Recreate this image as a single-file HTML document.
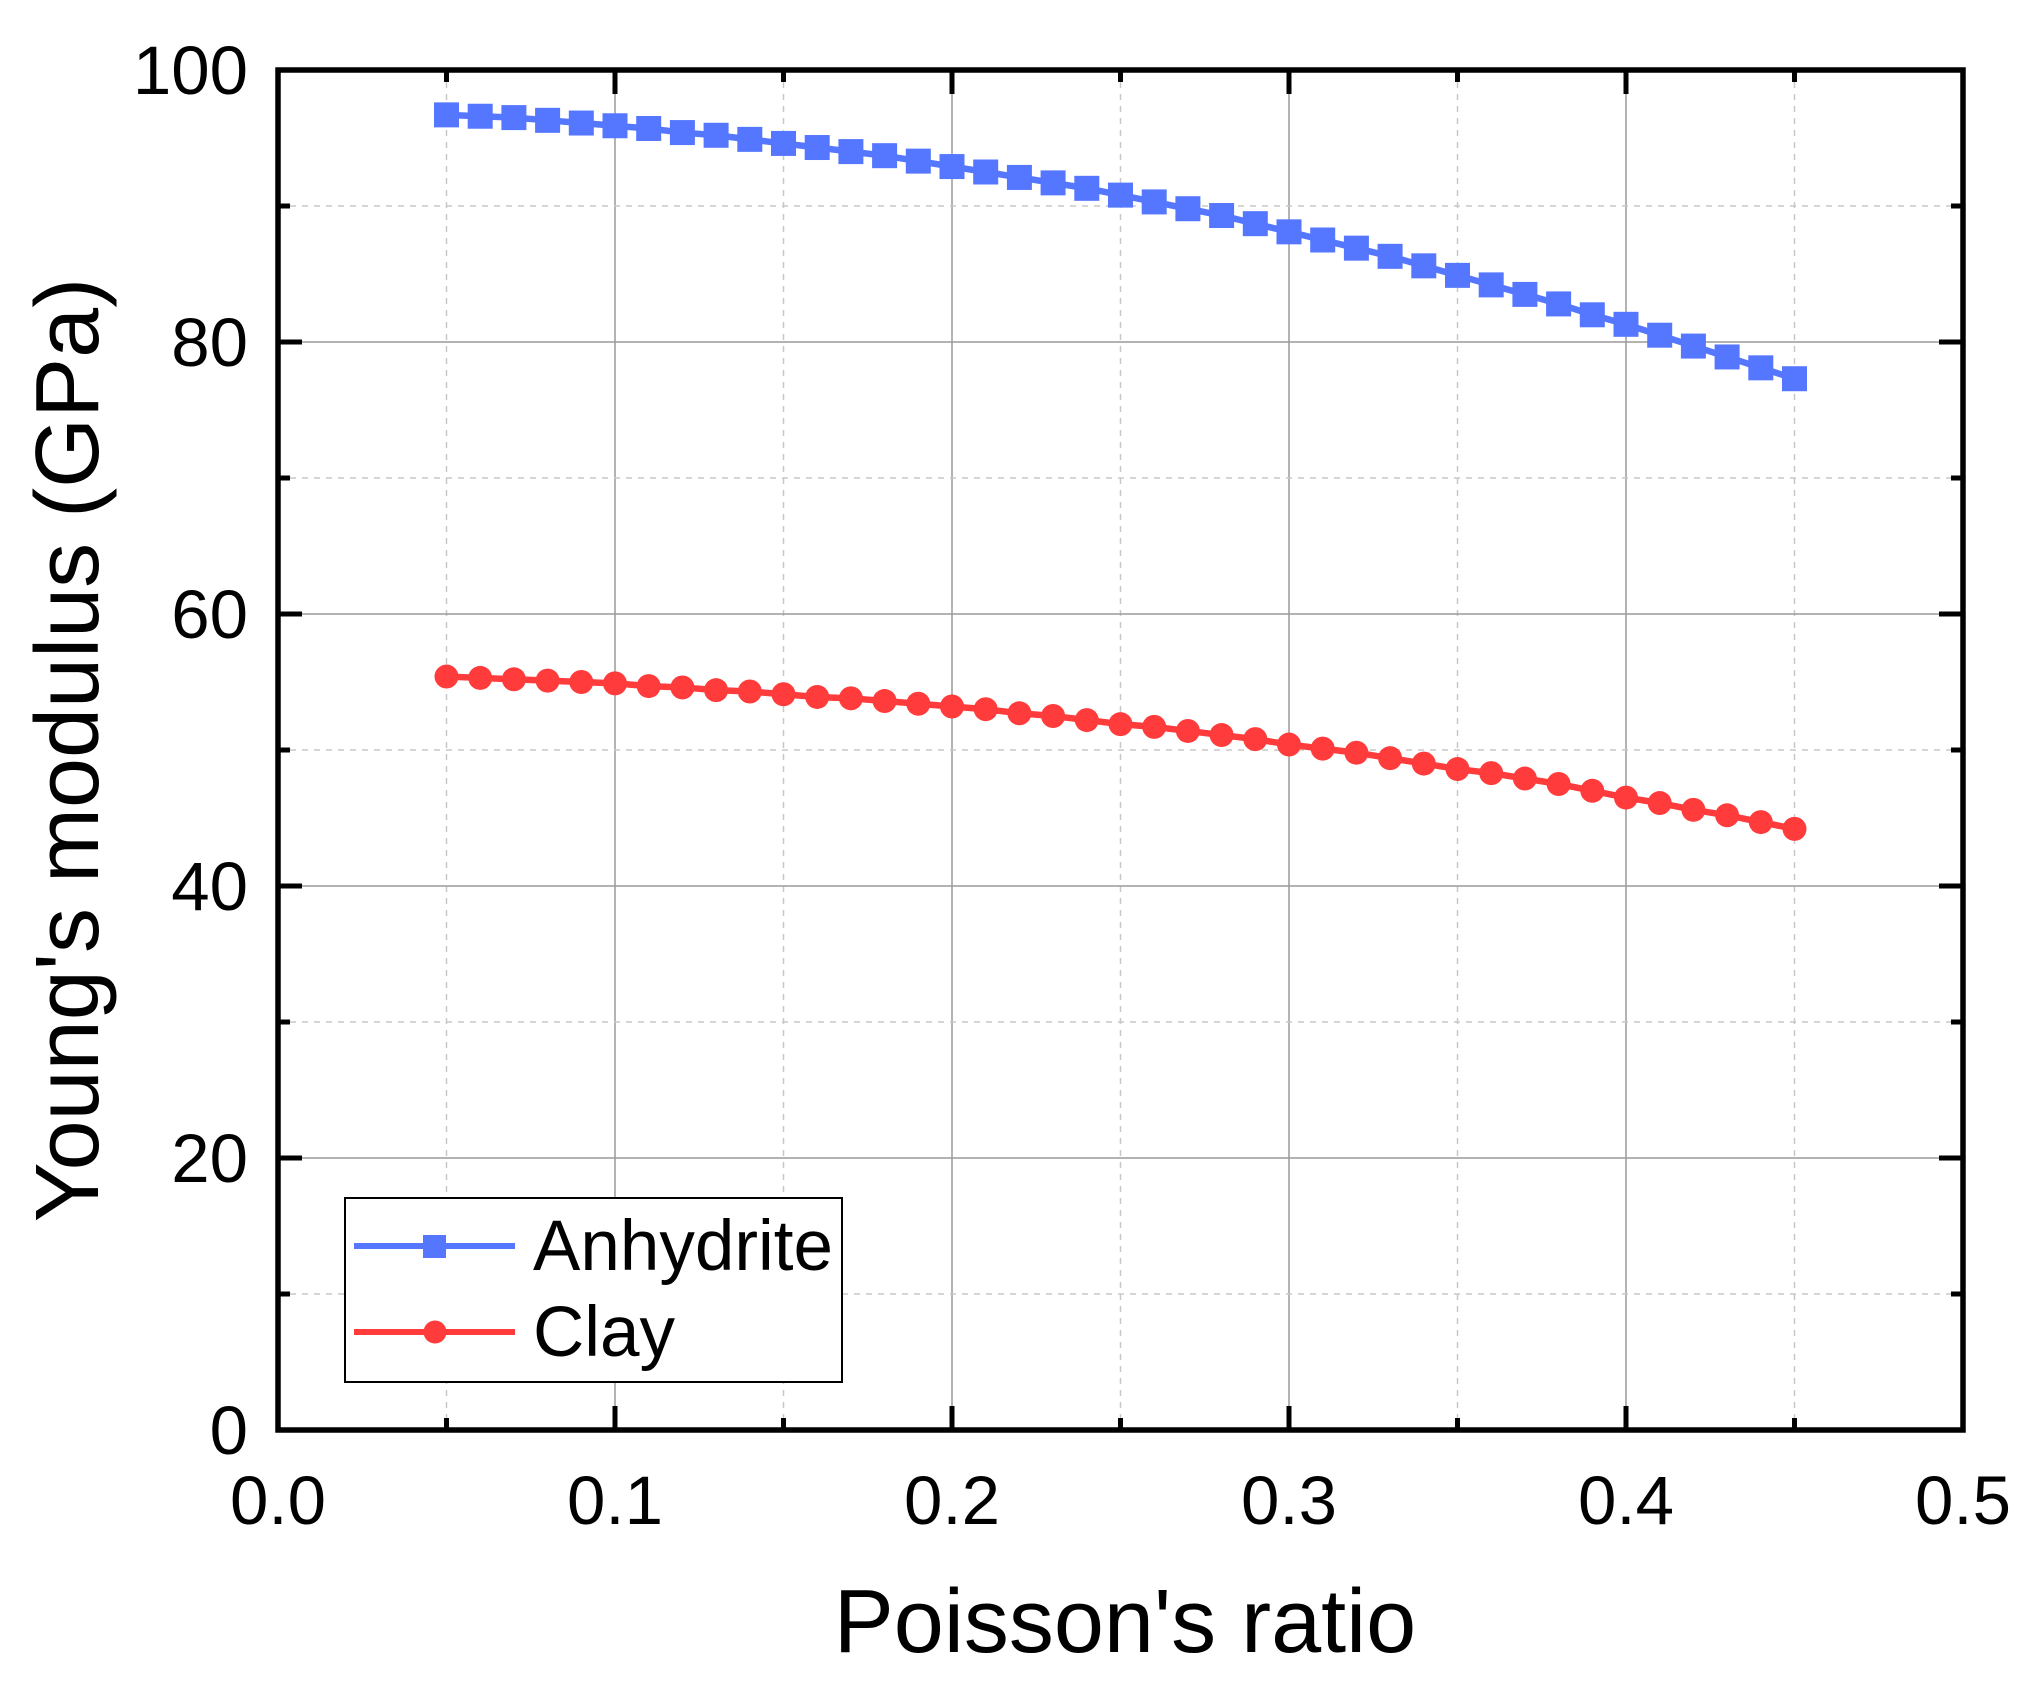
<!DOCTYPE html>
<html><head><meta charset="utf-8"><style>
html,body{margin:0;padding:0;background:#fff;}
svg{display:block;font-family:"Liberation Sans",Arial,sans-serif;}
</style></head><body>
<svg id="chart" width="2034" height="1685" viewBox="0 0 2034 1685">
<g id="grid"></g>
<g id="series"></g>
<g id="axes"></g>
<text x="1125" y="1652" font-size="90" text-anchor="middle">Poisson's ratio</text>
<text transform="translate(98,750) rotate(-90)" font-size="90" text-anchor="middle">Young's modulus (GPa)</text>
<g id="legend">
<rect x="345" y="1198" width="497" height="184" fill="#fff" stroke="#000" stroke-width="2"/>
<g>
<line x1="354" y1="1246" x2="515" y2="1246" stroke="#5577FF" stroke-width="6"/>
<rect x="423" y="1235" width="23" height="23" fill="#5577FF"/>
<text x="533" y="1270" font-size="71">Anhydrite</text></g>
<g>
<line x1="354" y1="1332" x2="515" y2="1332" stroke="#FF3B3B" stroke-width="6"/>
<circle cx="435" cy="1332" r="11.5" fill="#FF3B3B"/>
<text x="533" y="1356" font-size="71">Clay</text></g>
</g>
</svg>
<script>
const xValues=[0.05,0.06,0.07,0.08,0.09,0.10,0.11,0.12,0.13,0.14,0.15,0.16,0.17,0.18,0.19,0.20,0.21,0.22,0.23,0.24,0.25,0.26,0.27,0.28,0.29,0.30,0.31,0.32,0.33,0.34,0.35,0.36,0.37,0.38,0.39,0.40,0.41,0.42,0.43,0.44,0.45];
const anhydrite=[96.7,96.6,96.5,96.3,96.1,95.9,95.7,95.4,95.2,94.9,94.6,94.3,94.0,93.7,93.3,92.9,92.5,92.1,91.7,91.3,90.8,90.3,89.8,89.3,88.7,88.1,87.5,86.9,86.3,85.6,84.9,84.2,83.5,82.8,82.0,81.3,80.5,79.7,78.9,78.1,77.3];
const clay=[55.4,55.3,55.2,55.1,55.0,54.9,54.7,54.6,54.4,54.3,54.1,53.9,53.8,53.6,53.4,53.2,53.0,52.7,52.5,52.2,51.9,51.7,51.4,51.1,50.8,50.4,50.1,49.8,49.4,49.0,48.6,48.3,47.9,47.5,47.0,46.5,46.1,45.6,45.2,44.7,44.2];
const xTicks=[0,0.1,0.2,0.3,0.4,0.5];
const xTickLabels=["0.0","0.1","0.2","0.3","0.4","0.5"];
const yTicks=[0,20,40,60,80,100];
const yTickLabels=["0","20","40","60","80","100"];
const L=278,R=1963,T=70,B=1430;
const sx=v=>L+(v-0)/(0.5)*(R-L);
const sy=v=>B-(v/100)*(B-T);
const NS="http://www.w3.org/2000/svg";
function mk(tag,attrs,parent){const e=document.createElementNS(NS,tag);for(const k in attrs)e.setAttribute(k,attrs[k]);parent.appendChild(e);return e;}
const grid=document.getElementById('grid'),axes=document.getElementById('axes'),ser=document.getElementById('series');
for(let i=0;i<xTicks.length;i++){
 const x=sx(xTicks[i]);
 if(i>0&&i<xTicks.length-1){const g=mk('line',{x1:x,y1:T,x2:x,y2:B,stroke:'#9a9a9a','stroke-width':1.5},grid);
 
 }
 if(i<xTicks.length-1){const xm=sx((xTicks[i]+xTicks[i+1])/2);const g=mk('line',{x1:xm,y1:T,x2:xm,y2:B,stroke:'#c8c8c8','stroke-width':1.5,'stroke-dasharray':'6 6'},grid);
 
 }
}
for(let i=0;i<yTicks.length;i++){
 const y=sy(yTicks[i]);
 if(i>0&&i<yTicks.length-1){const g=mk('line',{x1:L,y1:y,x2:R,y2:y,stroke:'#9a9a9a','stroke-width':1.5},grid);
 
 }
 if(i<yTicks.length-1){const ym=sy((yTicks[i]+yTicks[i+1])/2);const g=mk('line',{x1:L,y1:ym,x2:R,y2:ym,stroke:'#c8c8c8','stroke-width':1.5,'stroke-dasharray':'6 6'},grid);
 
 }
}
function drawSeries(vals,color,shape,name){
 const pts=xValues.map((x,i)=>sx(x)+','+sy(vals[i])).join(' ');
 const pl=mk('polyline',{points:pts,fill:'none',stroke:color,'stroke-width':6.5},ser);
 
 
 xValues.forEach((x,i)=>{
  let m;
  if(shape==='square')m=mk('rect',{x:sx(x)-12.5,y:sy(vals[i])-12.5,width:25,height:25,fill:color},ser);
  else m=mk('circle',{cx:sx(x),cy:sy(vals[i]),r:12,fill:color},ser);
  
  
 });
}
drawSeries(anhydrite,'#5577FF','square','anhydrite');
drawSeries(clay,'#FF3B3B','circle','clay');
const fr=mk('rect',{x:L,y:T,width:R-L,height:B-T,fill:'none',stroke:'#000','stroke-width':5.5},axes);


for(let i=0;i<xTicks.length;i++){
 const x=sx(xTicks[i]);
 mk('line',{x1:x,y1:B,x2:x,y2:B-24,stroke:'#000','stroke-width':5},axes);
 mk('line',{x1:x,y1:T,x2:x,y2:T+24,stroke:'#000','stroke-width':5},axes);
 if(i<xTicks.length-1){const xm=sx((xTicks[i]+xTicks[i+1])/2);
  mk('line',{x1:xm,y1:B,x2:xm,y2:B-12,stroke:'#000','stroke-width':5},axes);
  mk('line',{x1:xm,y1:T,x2:xm,y2:T+12,stroke:'#000','stroke-width':5},axes);}
 const t=mk('text',{x:x,y:1524,'font-size':69,'text-anchor':'middle'},axes);
 t.textContent=xTickLabels[i];
 
 
}
for(let i=0;i<yTicks.length;i++){
 const y=sy(yTicks[i]);
 mk('line',{x1:L,y1:y,x2:L+24,y2:y,stroke:'#000','stroke-width':5},axes);
 mk('line',{x1:R,y1:y,x2:R-24,y2:y,stroke:'#000','stroke-width':5},axes);
 if(i<yTicks.length-1){const ym=sy((yTicks[i]+yTicks[i+1])/2);
  mk('line',{x1:L,y1:ym,x2:L+12,y2:ym,stroke:'#000','stroke-width':5},axes);
  mk('line',{x1:R,y1:ym,x2:R-12,y2:ym,stroke:'#000','stroke-width':5},axes);}
 const t=mk('text',{x:248,y:y+24,'font-size':69,'text-anchor':'end'},axes);
 t.textContent=yTickLabels[i];
 
 
}
</script>
</body></html>
